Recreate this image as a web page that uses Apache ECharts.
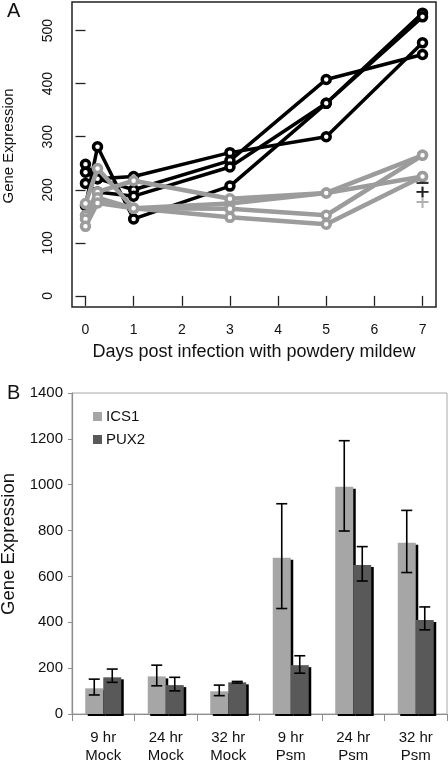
<!DOCTYPE html>
<html>
<head>
<meta charset="utf-8">
<script src="https://cdn.jsdelivr.net/npm/echarts@6/dist/echarts.min.js"></script>
<style>
html,body{margin:0;padding:0;background:#fff;}
#chart{width:448px;height:765px;}
</style>
</head>
<body>
<div id="chart"></div>
<script>
// ---------- Panel A data ----------
const daysTicks = [0, 1, 2, 3, 4, 5, 6, 7];
const exprTicksA = [0, 100, 200, 300, 400, 500];
const blackLine1 = [[0, 170], [0.25, 281], [1, 145], [3, 207], [5, 363], [7, 533]];
const blackLine2 = [[0, 248], [0.25, 221], [1, 225], [3, 270], [5, 300], [7, 477]];
const blackLine3 = [[0, 233], [0.25, 221], [1, 200], [3, 255], [5, 408], [7, 455]];
const blackLine4 = [[0, 212], [0.25, 196], [1, 188], [3, 243], [5, 363], [7, 526]];
const grayLine1 = [[0, 174], [0.25, 240], [1, 165], [3, 174], [5, 194], [7, 225]];
const grayLine2 = [[0, 152], [0.25, 196], [1, 217], [3, 183], [5, 194], [7, 265]];
const grayLine3 = [[0, 145], [0.25, 185], [1, 165], [3, 164], [5, 152], [7, 265]];
const grayLine4 = [[0, 131], [0.25, 175], [1, 165], [3, 148], [5, 135], [7, 225]];
const grayPlus = [[7, 196], [7, 177]];
const blackPlus = [[7, 196]];
const blackDash = [[7, 213]];

// ---------- Panel B data ----------
const categoriesB = ['9 hr\nMock', '24 hr\nMock', '32 hr\nMock', '9 hr\nPsm', '24 hr\nPsm', '32 hr\nPsm'];
const ics1 = [112, 164, 99, 682, 991, 747];
const ics1Low = [83, 123, 80, 460, 798, 617];
const ics1High = [152, 213, 126, 917, 1192, 888];
const pux2 = [160, 126, 138, 213, 650, 410];
const pux2Low = [138, 101, 135, 178, 580, 367];
const pux2High = [196, 160, 142, 254, 730, 467];

const FONT = 'Liberation Sans, Arial, Helvetica, sans-serif';
const BLACK = '#000000';
const GRAY = '#9c9c9c';
const BAR_W = 18;

function lineSeries(data, color, width) {
  return {
    type: 'line', xAxisIndex: 0, yAxisIndex: 0, data: data,
    symbol: 'circle', symbolSize: 8,
    lineStyle: { color: color, width: width },
    itemStyle: { color: '#ffffff', borderColor: color, borderWidth: 3.5 },
    emphasis: { disabled: true }, z: color === GRAY ? 4 : 3
  };
}

function errSeries(low, high, offset) {
  const data = low.map((l, i) => [i, l, high[i]]);
  return {
    type: 'custom', xAxisIndex: 1, yAxisIndex: 1, data: data, z: 10,
    renderItem: function (params, api) {
      const i = api.value(0);
      const pHi = api.coord([i, api.value(2)]);
      const pLo = api.coord([i, api.value(1)]);
      const x = pHi[0] + offset;
      const cap = 5.5;
      const st = { stroke: '#000', lineWidth: 1.6 };
      return {
        type: 'group', children: [
          { type: 'line', shape: { x1: x, y1: pHi[1], x2: x, y2: pLo[1] }, style: st },
          { type: 'line', shape: { x1: x - cap, y1: pHi[1], x2: x + cap, y2: pHi[1] }, style: st },
          { type: 'line', shape: { x1: x - cap, y1: pLo[1], x2: x + cap, y2: pLo[1] }, style: st }
        ]
      };
    }
  };
}

const chart = echarts.init(document.getElementById('chart'), null, { renderer: 'canvas' });
const barShadow = { shadowColor: '#000', shadowBlur: 0, shadowOffsetX: 2.5, shadowOffsetY: 2 };

chart.setOption({
  animation: false,
  backgroundColor: '#ffffff',
  textStyle: { fontFamily: FONT },
  graphic: [
    { type: 'text', x: 7, y: 1, style: { text: 'A', font: '20px ' + FONT, fill: '#111' } },
    { type: 'text', x: 7, y: 383, style: { text: 'B', font: '20px ' + FONT, fill: '#111' } },
    { type: 'text', x: 9, y: 146, rotation: Math.PI / 2,
      style: { text: 'Gene Expression', font: '15px ' + FONT, fill: '#111', align: 'center', verticalAlign: 'middle' } },
    { type: 'text', x: 9, y: 544, rotation: Math.PI / 2,
      style: { text: 'Gene Expression', font: '18.5px ' + FONT, fill: '#111', align: 'center', verticalAlign: 'middle' } }
  ],
  legend: {
    data: ['ICS1', 'PUX2'], orient: 'vertical', left: 88, top: 404,
    itemWidth: 9, itemHeight: 9, itemGap: 8, icon: 'rect',
    itemStyle: { shadowColor: 'transparent', shadowOffsetX: 0, shadowOffsetY: 0 },
    textStyle: { fontSize: 15, color: '#111', fontFamily: FONT, padding: [0, 0, 0, -1] }
  },
  grid: [
    { left: 72, top: 2, width: 364, height: 305, show: true, borderColor: '#222', borderWidth: 1.5, backgroundColor: 'transparent' },
    { left: 72, top: 393, width: 375, height: 322, show: true, borderColor: '#a8a8a8', borderWidth: 1, backgroundColor: 'transparent' }
  ],
  xAxis: [
    {
      gridIndex: 0, type: 'value', min: -0.28, max: 7.28,
      axisLine: { show: false },
      axisTick: { show: true, inside: false, length: 10, customValues: daysTicks, lineStyle: { color: '#222', width: 1.3 } },
      axisLabel: { customValues: daysTicks, margin: 16, fontSize: 14, color: '#111', fontFamily: FONT },
      splitLine: { show: false },
      name: 'Days post infection with powdery mildew', nameLocation: 'middle', nameGap: 36,
      nameTextStyle: { fontSize: 18, color: '#111', fontFamily: FONT }
    },
    {
      gridIndex: 1, type: 'category', data: categoriesB, boundaryGap: true,
      axisLine: { show: true, lineStyle: { color: '#8c8c8c', width: 1.2 } },
      axisTick: { show: true, length: 7, interval: 0, lineStyle: { color: '#8c8c8c' } },
      axisLabel: { interval: 0, margin: 15, fontSize: 15, lineHeight: 18, color: '#111', fontFamily: FONT },
      splitLine: { show: false }
    }
  ],
  yAxis: [
    {
      gridIndex: 0, type: 'value', min: -21, max: 554,
      axisLine: { show: false },
      axisTick: { show: true, inside: false, length: 10, customValues: exprTicksA, lineStyle: { color: '#222', width: 1.3 } },
      axisLabel: { customValues: exprTicksA, rotate: 90, margin: 17, fontSize: 14, color: '#111', fontFamily: FONT,
        formatter: v => String(v) },
      splitLine: { show: false }
    },
    {
      gridIndex: 1, type: 'value', min: 0, max: 1400, interval: 200,
      axisLine: { show: true, lineStyle: { color: '#8c8c8c', width: 1.2 } },
      axisTick: { show: true, length: 4, lineStyle: { color: '#8c8c8c' } },
      axisLabel: { margin: 9, fontSize: 15, color: '#111', fontFamily: FONT, formatter: v => String(v) },
      splitLine: { show: false }
    }
  ],
  series: [
    lineSeries(blackLine1, BLACK, 3.5),
    lineSeries(blackLine2, BLACK, 3.5),
    lineSeries(blackLine3, BLACK, 3.5),
    lineSeries(blackLine4, BLACK, 3.5),
    lineSeries(grayLine1, GRAY, 4.5),
    lineSeries(grayLine2, GRAY, 4.5),
    lineSeries(grayLine3, GRAY, 4.5),
    lineSeries(grayLine4, GRAY, 4.5),
    {
      type: 'scatter', xAxisIndex: 0, yAxisIndex: 0, data: grayPlus, z: 5,
      symbol: 'path://M5,0H7V5H12V7H7V12H5V7H0V5H5Z', symbolSize: [12, 12],
      itemStyle: { color: GRAY }, emphasis: { disabled: true }
    },
    {
      type: 'scatter', xAxisIndex: 0, yAxisIndex: 0, data: blackPlus, z: 6,
      symbol: 'path://M5,0H7V5H12V7H7V12H5V7H0V5H5Z', symbolSize: [12, 10],
      itemStyle: { color: BLACK }, emphasis: { disabled: true }
    },
    {
      type: 'scatter', xAxisIndex: 0, yAxisIndex: 0, data: blackDash, z: 6,
      symbol: 'rect', symbolSize: [12, 2.2],
      itemStyle: { color: BLACK }, emphasis: { disabled: true }
    },
    {
      name: 'ICS1', type: 'bar', xAxisIndex: 1, yAxisIndex: 1, data: ics1,
      barWidth: BAR_W, barGap: '0%',
      itemStyle: Object.assign({ color: '#a6a6a6' }, barShadow), emphasis: { disabled: true }, z: 2
    },
    {
      name: 'PUX2', type: 'bar', xAxisIndex: 1, yAxisIndex: 1, data: pux2,
      barWidth: BAR_W, barGap: '0%',
      itemStyle: Object.assign({ color: '#595959' }, barShadow), emphasis: { disabled: true }, z: 3
    },
    errSeries(ics1Low, ics1High, -BAR_W / 2),
    errSeries(pux2Low, pux2High, BAR_W / 2)
  ]
});
</script>
</body>
</html>
